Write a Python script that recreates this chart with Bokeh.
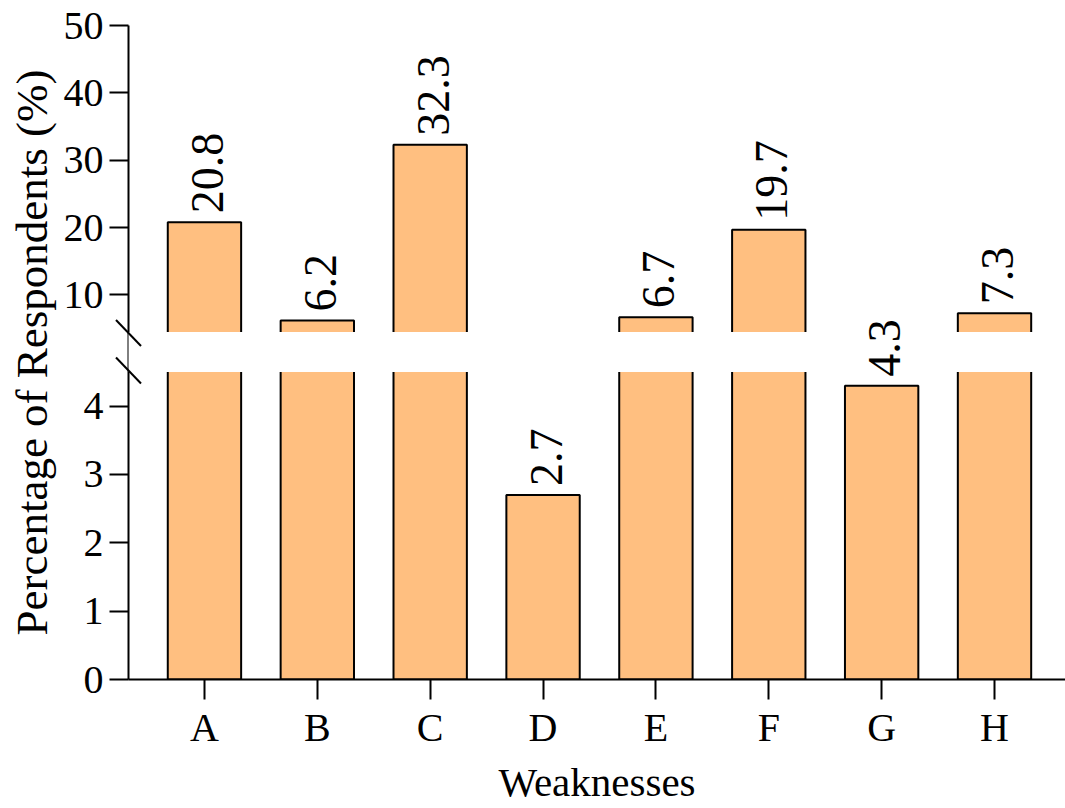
import numpy as np
from bokeh.plotting import figure
from bokeh.models import (Range1d, FixedTicker, ColumnDataSource,
                          LabelSet, BoxAnnotation, Title)
from bokeh.embed import file_html
from bokeh.resources import INLINE

# ---- data ----
categories = ["A", "B", "C", "D", "E", "F", "G", "H"]
values = [20.8, 6.2, 32.3, 2.7, 6.7, 19.7, 4.3, 7.3]
lower_ticks = [0, 1, 2, 3, 4]
upper_ticks = [10, 20, 30, 40, 50]
BREAK = 4.5
YMAX = 50

# ---- layout constants (pixels) ----
W, H = 1065, 808
LEFT, TOPB, BOTTOM = 128, 25, 128
frame_h = H - TOPB - BOTTOM          # 655
lower_px = 308
gap_px = 40
upper_px = frame_h - lower_px - gap_px

lower_end = BREAK * frame_h / lower_px
lower_u = lower_end / frame_h                  # lower units per px
upper_u = (YMAX - BREAK) / upper_px            # upper units per px
upper_start = BREAK - (lower_px + gap_px) * upper_u

X0, X1 = 0.327, 8.629
x_u = (X1 - X0) / (W - LEFT)

FONT = "Liberation Serif"
FILL = "#ffbf80"


def upper_to_lower(v):
    """position of an upper-segment value on the shared (lower) axis scale"""
    return BREAK + gap_px * lower_u + (v - BREAK) / upper_u * lower_u


x = list(range(1, len(categories) + 1))

p = figure(width=W, height=H, x_range=Range1d(X0, X1), y_range=Range1d(0, lower_end),
           output_backend="svg", toolbar_location=None,
           min_border_left=LEFT, min_border_top=TOPB, min_border_bottom=BOTTOM,
           min_border_right=0)
p.extra_y_ranges = {"upper": Range1d(upper_start, YMAX)}
p.grid.visible = False
p.outline_line_color = None
p.background_fill_color = "white"
p.border_fill_color = "white"

# lower segment bars (tops that exceed the break run into the hidden gap)
lower_src = ColumnDataSource(dict(
    x=x, top=[v if v <= BREAK else BREAK + 0.3 for v in values]))
p.vbar(x="x", top="top", bottom=0, width=0.65, source=lower_src,
       fill_color=FILL, line_color="black", line_width=2)

# upper segment bars
ux = [xi for xi, v in zip(x, values) if v > BREAK]
uv = [v for v in values if v > BREAK]
upper_src = ColumnDataSource(dict(x=ux, top=uv, bottom=[BREAK - 10 * upper_u] * len(uv)))
p.vbar(x="x", top="top", bottom="bottom", width=0.65, source=upper_src,
       fill_color=FILL, line_color="black", line_width=2, y_range_name="upper")

# y axis: one axis carrying both segments' ticks
ax = p.yaxis[0]
up_pos = [upper_to_lower(v) for v in upper_ticks]
ax.ticker = FixedTicker(ticks=lower_ticks + up_pos)
overrides = {t: str(t) for t in lower_ticks}
overrides.update({pos: str(v) for pos, v in zip(up_pos, upper_ticks)})
ax.major_label_overrides = overrides
ax.bounds = (0, upper_to_lower(YMAX))
ax.axis_line_width = 2
ax.axis_line_color = "black"
ax.major_tick_line_width = 2
ax.major_tick_line_color = "black"
ax.major_tick_out = 19
ax.major_tick_in = 0
ax.minor_tick_line_color = None
ax.major_label_text_font = FONT
ax.major_label_text_font_size = "40px"
ax.major_label_text_color = "black"
ax.major_label_standoff = 6

xa = p.xaxis[0]
xa.ticker = FixedTicker(ticks=x)
xa.major_label_overrides = {xi: c for xi, c in zip(x, categories)}
xa.axis_line_width = 2
xa.axis_line_color = "black"
xa.major_tick_line_width = 2
xa.major_tick_line_color = "black"
xa.major_tick_out = 20
xa.major_tick_in = 0
xa.minor_tick_line_color = None
xa.major_label_text_font = FONT
xa.major_label_text_font_size = "40px"
xa.major_label_text_color = "black"
xa.major_label_standoff = 5

# axis titles
p.add_layout(Title(text="Percentage of Respondents (%)", align="center",
                   text_font=FONT, text_font_size="45px", text_font_style="normal",
                   text_color="black", standoff=8), "left")
p.add_layout(Title(text="Weaknesses", align="center", offset=3,
                   text_font=FONT, text_font_size="41px", text_font_style="normal",
                   text_color="black", standoff=8), "below")

# white band hiding the break (bars and axis line)
p.add_layout(BoxAnnotation(bottom=BREAK, top=BREAK + gap_px * lower_u,
                           left=X0 - 5 * x_u,
                           fill_color="white", fill_alpha=1.0, line_color=None))

# break marks (diagonal strokes across the axis at the break edges)
mark_src = ColumnDataSource(dict(
    x0=[X0 - 12.5 * x_u] * 2, x1=[X0 + 12.5 * x_u] * 2,
    y0=[5.07 + 13 * lower_u, 4.522 + 13 * lower_u],
    y1=[5.07 - 13 * lower_u, 4.522 - 13 * lower_u]))
mr = p.segment(x0="x0", y0="y0", x1="x1", y1="y1", source=mark_src,
               line_width=2, line_color="black")
mr.level = "overlay"

# value labels
lab_lo = ColumnDataSource(dict(x=[xi for xi, v in zip(x, values) if v <= BREAK],
                               y=[v for v in values if v <= BREAK],
                               t=[f"{v:.1f}" for v in values if v <= BREAK]))
lab_up = ColumnDataSource(dict(x=ux, y=uv, t=[f"{v:.1f}" for v in uv]))
for src, rn in [(lab_lo, "default"), (lab_up, "upper")]:
    p.add_layout(LabelSet(x="x", y="y", text="t", source=src, y_range_name=rn,
                          angle=np.pi / 2, text_align="left", text_baseline="middle",
                          y_offset=9, x_offset=3, text_font=FONT, text_font_size="46px",
                          text_color="black"))

open("out.html", "w").write(file_html(p, INLINE))
